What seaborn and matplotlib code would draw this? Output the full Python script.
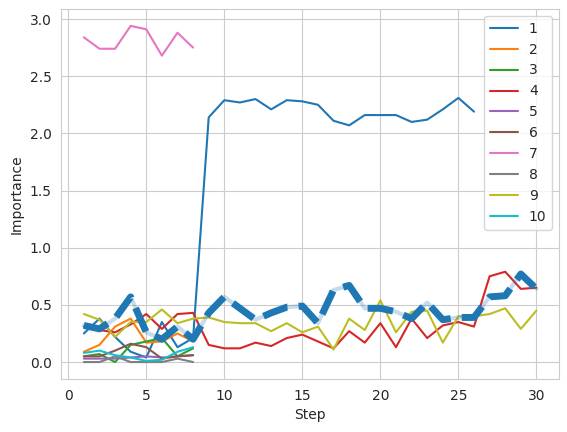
import numpy as np
import pandas as pd
import seaborn as sns
from matplotlib import pyplot as plt

# importance per feature over training steps
steps_short = list(range(1, 9))
steps_f1 = list(range(1, 27))
steps_full = list(range(1, 31))

feat1 = [0.25, 0.38, 0.22, 0.09, 0.04, 0.35, 0.13, 0.21,
         2.14, 2.29, 2.27, 2.30, 2.21, 2.29, 2.28, 2.25, 2.11, 2.07,
         2.16, 2.16, 2.16, 2.10, 2.12, 2.21, 2.31, 2.19]
feat2 = [0.09, 0.15, 0.31, 0.38, 0.17, 0.18, 0.25, 0.18]
feat3 = [0.05, 0.07, 0.00, 0.15, 0.18, 0.21, 0.05, 0.12]
feat4 = [0.31, 0.28, 0.26, 0.33, 0.42, 0.29, 0.42, 0.43,
         0.15, 0.12, 0.12, 0.17, 0.14, 0.21, 0.24, 0.18, 0.12, 0.27,
         0.17, 0.34, 0.13, 0.38, 0.21, 0.32, 0.35, 0.31, 0.75, 0.79,
         0.64, 0.65]
feat5 = [0.03, 0.03, 0.03, 0.04, 0.05, 0.04, 0.05, 0.06]
feat6 = [0.05, 0.05, 0.10, 0.16, 0.13, 0.03, 0.05, 0.06]
feat7 = [2.84, 2.74, 2.74, 2.94, 2.91, 2.68, 2.88, 2.75]
feat8 = [0.00, 0.00, 0.05, 0.00, 0.00, 0.00, 0.03, 0.00]
feat9 = [0.42, 0.37, 0.22, 0.35, 0.35, 0.46, 0.34, 0.38,
         0.39, 0.35, 0.34, 0.34, 0.27, 0.34, 0.26, 0.31, 0.11, 0.38,
         0.28, 0.54, 0.26, 0.44, 0.45, 0.17, 0.40, 0.40, 0.42, 0.47,
         0.29, 0.45]
feat10 = [0.08, 0.10, 0.06, 0.04, 0.01, 0.02, 0.09, 0.13]
highlight = [0.32, 0.29, 0.38, 0.57, 0.26, 0.20, 0.31, 0.20,
             0.43, 0.57, 0.47, 0.37, 0.43, 0.48, 0.49, 0.34, 0.63, 0.67,
             0.47, 0.47, 0.44, 0.38, 0.52, 0.37, 0.39, 0.39, 0.57, 0.58,
             0.77, 0.64]

series = [
    (steps_f1, feat1), (steps_short, feat2), (steps_short, feat3),
    (steps_full, feat4), (steps_short, feat5), (steps_short, feat6),
    (steps_short, feat7), (steps_short, feat8), (steps_full, feat9),
    (steps_short, feat10),
]

sns.set_style("whitegrid")
fig, ax = plt.subplots(figsize=(5.67, 4.32), dpi=100)
colors = sns.color_palette('tab10')

for i, (xs, ys) in enumerate(series):
    sns.lineplot(x=xs, y=ys, color=colors[i], label=str(i + 1), ax=ax)

# highlighted curve drawn on top
sns.lineplot(x=steps_full, y=highlight, color=colors[0], alpha=0.25,
             linewidth=3, legend=False, ax=ax)
sns.lineplot(x=steps_full, y=highlight, color=colors[0], linewidth=5,
             linestyle='--', legend=False, ax=ax)

ax.set_xlabel("Step")
ax.set_ylabel("Importance")
ax.legend(loc='upper right')
fig.subplots_adjust(left=0.108, right=0.986, bottom=0.123, top=0.979)
fig.savefig("out.png")
